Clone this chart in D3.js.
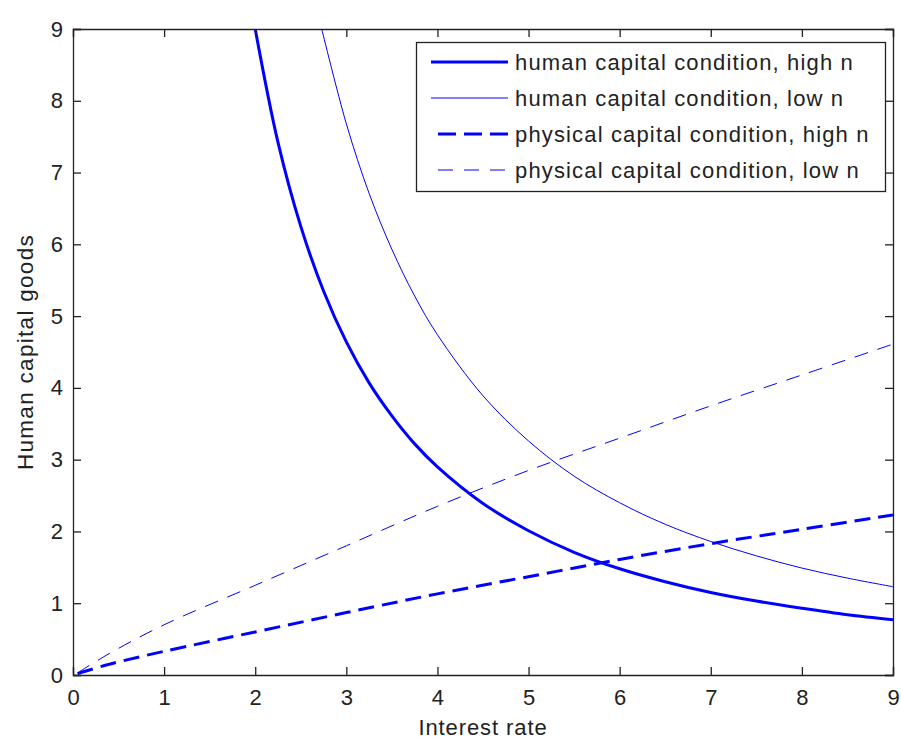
<!DOCTYPE html>
<html>
<head>
<meta charset="utf-8">
<script src="https://cdn.jsdelivr.net/npm/d3@7"></script>
<style>
  html, body { margin: 0; padding: 0; background: #fff; }
  svg { display: block; }
  text { font-family: "Liberation Sans", Arial, sans-serif; fill: #222; }
</style>
</head>
<body>
<svg id="chart" width="901" height="740"></svg>
<script>
// Human capital condition, high population growth
const humanHighRate  = [2.0, 2.25, 2.5, 2.75, 3.0, 3.25, 3.5, 3.75, 4.0, 4.5, 5.0, 5.5, 6.0, 6.5, 7.0, 7.5, 8.0, 8.5, 9.0];
const humanHighGoods = [9.00, 7.42, 6.25, 5.35, 4.64, 4.07, 3.61, 3.22, 2.90, 2.39, 2.01, 1.71, 1.48, 1.30, 1.15, 1.03, 0.93, 0.84, 0.77];

// Human capital condition, low population growth
const humanLowRate  = [2.73, 3.0, 3.25, 3.5, 3.75, 4.0, 4.5, 5.0, 5.5, 6.0, 6.5, 7.0, 7.5, 8.0, 8.5, 9.0];
const humanLowGoods = [9.00, 7.68, 6.71, 5.93, 5.28, 4.74, 3.89, 3.26, 2.77, 2.40, 2.10, 1.86, 1.66, 1.49, 1.35, 1.23];

// Physical capital conditions (shared rate grid)
const physRate      = [0.05, 0.4, 1, 2, 3, 4, 5, 6, 7, 8, 9];
const physHighGoods = [0.02, 0.15, 0.33, 0.60, 0.87, 1.13, 1.37, 1.61, 1.83, 2.03, 2.23];
const physLowGoods  = [0.03, 0.30, 0.70, 1.25, 1.80, 2.35, 2.85, 3.30, 3.75, 4.18, 4.61];

const xTicks = [0, 1, 2, 3, 4, 5, 6, 7, 8, 9];
const yTicks = [0, 1, 2, 3, 4, 5, 6, 7, 8, 9];

const seriesNames = [
  "human capital condition, high n",
  "human capital condition, low n",
  "physical capital condition, high n",
  "physical capital condition, low n"
];

const zip = (xs, ys) => xs.map((x, i) => [x, ys[i]]);
const series = [
  { name: seriesNames[0], pts: zip(humanHighRate, humanHighGoods), width: 3, dash: null },
  { name: seriesNames[1], pts: zip(humanLowRate, humanLowGoods),   width: 1, dash: null },
  { name: seriesNames[2], pts: zip(physRate, physHighGoods),       width: 3, dash: "16,8" },
  { name: seriesNames[3], pts: zip(physRate, physLowGoods),        width: 1, dash: "14,10" }
];

const margin = { left: 73, top: 29, right: 8, bottom: 65 };
const W = 901, H = 740;
const plotW = W - margin.left - margin.right;   // 820
const plotH = H - margin.top - margin.bottom;   // 646

const svg = d3.select("#chart");
const x = d3.scaleLinear().domain([0, 9]).range([margin.left, margin.left + plotW]);
const y = d3.scaleLinear().domain([0, 9]).range([margin.top + plotH, margin.top]);

const blue = "#0000ff";
const axisColor = "#222";
const fontSize = 22;

svg.append("defs").append("clipPath").attr("id", "plotClip")
  .append("rect")
  .attr("x", margin.left).attr("y", margin.top)
  .attr("width", plotW).attr("height", plotH);

// data lines (smooth spline through the sampled points)
const line = d3.line().x(d => x(d[0])).y(d => y(d[1])).curve(d3.curveCatmullRom.alpha(0.5));
const lines = svg.append("g").attr("clip-path", "url(#plotClip)");
series.forEach(s => {
  lines.append("path")
    .attr("d", line(s.pts))
    .attr("fill", "none")
    .attr("stroke", blue)
    .attr("stroke-width", s.width)
    .attr("stroke-dasharray", s.dash)
    .attr("stroke-linejoin", "round");
});

// axes: ticks pointing inward on all four sides
const tickLen = 8;
const axBottom = svg.append("g").attr("transform", `translate(0,${margin.top + plotH})`)
  .call(d3.axisBottom(x).tickValues(xTicks).tickSize(-tickLen).tickPadding(14).tickFormat(d3.format("d")));
const axTop = svg.append("g").attr("transform", `translate(0,${margin.top})`)
  .call(d3.axisTop(x).tickValues(xTicks).tickSize(-tickLen).tickFormat(""));
const axLeft = svg.append("g").attr("transform", `translate(${margin.left},0)`)
  .call(d3.axisLeft(y).tickValues(yTicks).tickSize(-tickLen).tickPadding(10).tickFormat(d3.format("d")));
const axRight = svg.append("g").attr("transform", `translate(${margin.left + plotW},0)`)
  .call(d3.axisRight(y).tickValues(yTicks).tickSize(-tickLen).tickFormat(""));

[axBottom, axTop, axLeft, axRight].forEach(g => {
  g.select(".domain").attr("stroke", axisColor).attr("stroke-width", 1.3);
  g.selectAll(".tick line").attr("stroke", axisColor).attr("stroke-width", 1.3);
  g.selectAll(".tick text").attr("font-size", fontSize).attr("font-family", null).style("fill", "#222");
});

// axis titles
svg.append("text")
  .attr("x", margin.left + plotW / 2)
  .attr("y", 735)
  .attr("text-anchor", "middle")
  .attr("font-size", fontSize)
  .attr("letter-spacing", 0.9)
  .text("Interest rate");

svg.append("text")
  .attr("transform", `translate(33,${margin.top + plotH / 2}) rotate(-90)`)
  .attr("text-anchor", "middle")
  .attr("font-size", 22.5)
  .attr("letter-spacing", 1.3)
  .text("Human capital goods");

// legend
const lg = svg.append("g");
lg.append("rect")
  .attr("x", 416.5).attr("y", 42.5)
  .attr("width", 469).attr("height", 149)
  .attr("fill", "#fff")
  .attr("stroke", axisColor)
  .attr("stroke-width", 1.3);

const rowY = [62, 98, 134, 170];
series.forEach((s, i) => {
  lg.append("line")
    .attr("x1", s.dash ? 438 : 431).attr("x2", 508)
    .attr("y1", rowY[i]).attr("y2", rowY[i])
    .attr("stroke", blue)
    .attr("stroke-width", s.width)
    .attr("stroke-dasharray", s.dash ? (s.width > 1 ? "18,8" : "15,11") : null);
  lg.append("text")
    .attr("x", 515)
    .attr("y", rowY[i] + 8)
    .attr("font-size", fontSize)
    .attr("letter-spacing", 1.15)
    .text(s.name);
});
</script>
</body>
</html>
